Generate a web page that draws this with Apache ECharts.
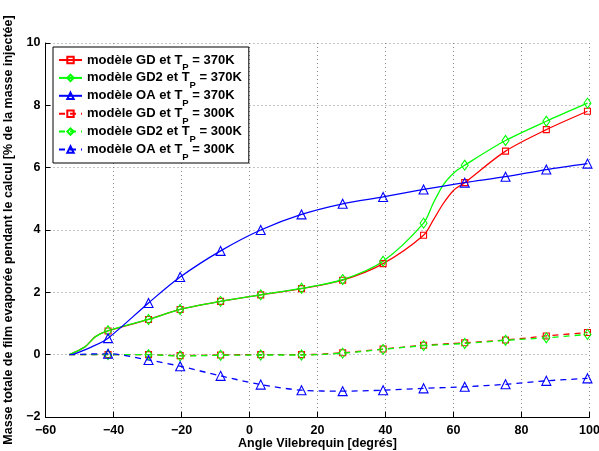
<!DOCTYPE html>
<html><head><meta charset="utf-8">
<script src="https://cdn.jsdelivr.net/npm/echarts@6/dist/echarts.min.js"></script>
<style>html,body{margin:0;padding:0;background:#fff}#c{width:599px;height:451px}</style>
</head><body><div id="c"></div>
<script>
// Marker abscissae (crank angle, degrees)
const markerX = [-41.6, -29.7, -20.4, -8.5, 3.3, 15.3, 27.4, 39.3, 51.2, 63.3, 75.3, 87.3, 99.4];
// Values at markers [% of injected mass]
const gd370  = [0.76, 1.13, 1.45, 1.71, 1.92, 2.12, 2.39, 2.92, 3.83, 5.52, 6.53, 7.22, 7.81];
const gd2370 = [0.77, 1.13, 1.45, 1.71, 1.92, 2.13, 2.41, 3.00, 4.22, 6.08, 6.87, 7.49, 8.07];
const oa370  = [0.53, 1.66, 2.49, 3.33, 4.00, 4.50, 4.84, 5.06, 5.30, 5.52, 5.71, 5.94, 6.13];
const gd300  = [0.00, 0.00, -0.03, -0.01, 0.00, 0.00, 0.06, 0.18, 0.30, 0.38, 0.47, 0.60, 0.71];
const gd2300 = [0.00, 0.00, -0.04, -0.02, -0.01, -0.01, 0.05, 0.17, 0.29, 0.36, 0.46, 0.54, 0.65];
const oa300  = [0.03, -0.17, -0.37, -0.68, -0.96, -1.14, -1.17, -1.14, -1.08, -1.03, -0.95, -0.84, -0.76];
// Intermediate (unmarked) curve points
const gd370Extra  = [[-53, 0], [-48.4, 0.25], [-45.4, 0.57], [54, 4.31], [57, 4.85], [60, 5.27]];
const gd2370Extra = [[-53, 0], [-48.4, 0.25], [-45.4, 0.57], [54, 4.85], [57, 5.45], [60.4, 5.86]];
const oa370Extra  = [[-52, 0], [-46.4, 0.25]];
const gd300Extra  = [[-53, 0]];
const gd2300Extra = [[-53, 0]];
const oa300Extra  = [[-53, 0]];
const seriesNames = ['modèle GD et T_370', 'modèle GD2 et T_370', 'modèle OA et T_370',
                     'modèle GD et T_300', 'modèle GD2 et T_300', 'modèle OA et T_300'];
const xTicks = {min: -60, max: 100, step: 20};
const yTicks = {min: -2, max: 10, step: 2};

function build(vals, extra) {
  const pts = markerX.map((x, i) => ({value: [x, vals[i]]}));
  extra.forEach(p => pts.push({value: p, symbol: 'none'}));
  pts.sort((a, b) => a.value[0] - b.value[0]);
  return pts;
}
const RED = '#ff0000', GRN = '#00ff00', BLU = '#0000ff';
function mk(name, vals, extra, color, sym, size, dashed) {
  return {
    name, type: 'line', data: build(vals, extra), smooth: 0.3,
    symbol: sym, symbolSize: size, showAllSymbol: true,
    lineStyle: {color, width: 1.3, type: dashed ? [6, 5] : 'solid'},
    itemStyle: {color: 'rgba(0,0,0,0)', borderColor: color, borderWidth: 1.1},
    emphasis: {disabled: true}, animation: false
  };
}
const series = [
  mk(seriesNames[0], gd370, gd370Extra, RED, 'rect', 6, false),
  mk(seriesNames[1], gd2370, gd2370Extra, GRN, 'diamond', [7, 10], false),
  mk(seriesNames[2], oa370, oa370Extra, BLU, 'triangle', 9, false),
  mk(seriesNames[3], gd300, gd300Extra, RED, 'rect', 6, true),
  mk(seriesNames[4], gd2300, gd2300Extra, GRN, 'diamond', [7, 10], true),
  mk(seriesNames[5], oa300, oa300Extra, BLU, 'triangle', 9, true)
];
const F = 'Liberation Sans, Arial, Helvetica, sans-serif';
const chart = echarts.init(document.getElementById('c'), null, {renderer: 'canvas'});
const baseAxis = {
  axisLine: {show: true, onZero: false, lineStyle: {color: '#000', width: 1}},
  axisTick: {show: true, inside: true, length: 5, lineStyle: {color: '#000'}},
  splitLine: {show: true, lineStyle: {color: '#888', type: [1, 3], width: 1}}
};
const fmt = v => (v < 0 ? '\u2212' + (-v) : '' + v);
chart.setOption({
  backgroundColor: '#fff',
  animation: false,
  grid: {left: 45.5, right: 9.5, top: 43, bottom: 34, show: false, containLabel: false, outerBoundsMode: 'none'},
  legend: {
    show: true, orient: 'vertical', left: 53, top: 47,
    backgroundColor: '#fff', borderColor: '#000', borderWidth: 1,
    padding: [5, 7, 1, 5], itemGap: -2.6, itemWidth: 23, itemHeight: 8,
    data: seriesNames,
    formatter: n => {
      const m = n.split('_');
      return '{a|' + m[0] + '}{s|P}{a| = ' + m[1] + 'K}';
    },
    textStyle: {
      lineHeight: 16,
      rich: {
        a: {fontFamily: F, fontWeight: 'bold', fontSize: 13, color: '#000', lineHeight: 16},
        s: {fontFamily: F, fontWeight: 'bold', fontSize: 9.5, color: '#000', lineHeight: 16,
            verticalAlign: 'bottom', padding: [0, 0, -4.5, 0]}
      }
    }
  },
  xAxis: Object.assign({}, baseAxis, {
    type: 'value', min: xTicks.min, max: xTicks.max, interval: xTicks.step, position: 'bottom',
    name: 'Angle Vilebrequin [degrés]', nameLocation: 'middle', nameGap: 20.5, nameMoveOverlap: false,
    nameTextStyle: {fontFamily: F, fontWeight: 'bold', fontSize: 12.5, color: '#000'},
    axisLabel: {fontFamily: F, fontWeight: 'bold', fontSize: 12.5, color: '#000', margin: 7, formatter: fmt}
  }),
  yAxis: Object.assign({}, baseAxis, {
    type: 'value', min: yTicks.min, max: yTicks.max, interval: yTicks.step, position: 'left',
    name: 'Masse totale de film evaporée pendant le calcul [% de la masse injectée]',
    nameLocation: 'middle', nameGap: 30, nameRotate: 90, nameMoveOverlap: false,
    nameTextStyle: {fontFamily: F, fontWeight: 'bold', fontSize: 12.5, color: '#000'},
    axisLabel: {fontFamily: F, fontWeight: 'bold', fontSize: 12.5, color: '#000', margin: 5, formatter: fmt}
  }),
  series
});
</script></body></html>
